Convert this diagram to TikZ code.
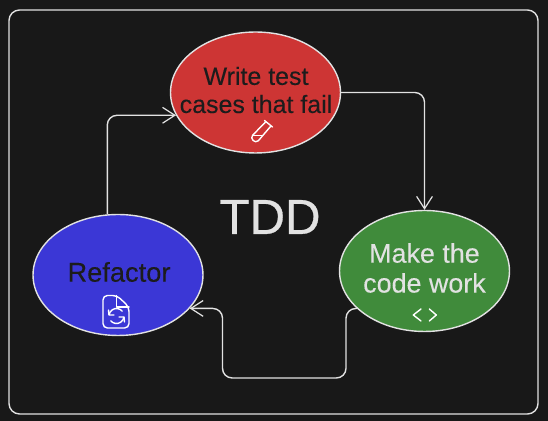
\documentclass[tikz,border=0pt]{standalone}
\usepackage{fontspec}
\setmainfont{Liberation Sans}
\usetikzlibrary{shapes.geometric,arrows.meta}
\definecolor{boardbg}{HTML}{181818}
\definecolor{inkdark}{HTML}{1C1C1C}
\definecolor{inklight}{HTML}{E2E2E2}
\definecolor{failred}{HTML}{CD3534}
\definecolor{passgreen}{HTML}{408B3B}
\definecolor{cleanblue}{HTML}{3B37D6}
\tikzset{
    phase/.style={ellipse, draw=inklight, line width=0.8pt, minimum width=3.4cm, minimum height=2.42cm, inner sep=0pt},
    caption/.style={align=center, inner sep=0pt},
    flow/.style={draw=inklight, line width=0.8pt, rounded corners=5.5pt, -{Straight Barb[length=7pt,width=9pt,line width=0.7pt]}},
    icon/.style={draw=white, line width=0.8pt, line cap=round, line join=round}
}
\begin{document}
\begin{tikzpicture}[x=0.02cm,y=-0.02cm]
    \fill[boardbg] (0,0) rectangle (548,421);
    \useasboundingbox (0,0) rectangle (548,421);

    % Frame
    \draw[inklight, line width=0.8pt, rounded corners=6pt] (9,10) rectangle (538,414);

    % Phases
    \node[phase, fill=failred] (write) at (255.5,92.5) {};
    \node[phase, fill=passgreen] (make) at (424.5,271) {};
    \node[phase, fill=cleanblue] (refactor) at (118,275) {};

    % Phase captions
    \node[caption, text=inkdark, font=\fontsize{14.2}{16}\selectfont\addfontfeature{FakeBold=0.2}] (writetext) at (256,90) {Write test\\cases that fail};
    \node[caption, text=inklight, font=\fontsize{15.3}{17}\selectfont\addfontfeature{FakeBold=0.2}] (maketext) at (424.5,268) {Make the\\code work};
    \node[caption, text=inkdark, font=\fontsize{15.5}{17}\selectfont\addfontfeature{FakeBold=0.2}] (refactortext) at (119,272) {Refactor};

    % Title
    \node[text=inklight, font=\fontsize{28}{32}\selectfont\addfontfeature{FakeBold=0.6}] (title) at (270,217) {TDD};

    % Flow between phases
    \draw[flow] (write.east) -| (make.north);
    \draw[flow] (refactor.100) |- (write.196);
    \coordinate (low1) at (346,378);
    \coordinate (low2) at (222.5,378);
    \draw[flow] (make.209) -| (low1) -- (low2) |- (refactor.-25);

    % Test tube
    \draw[icon] (265.5,122) -- (252.7,135.2) .. controls (249.5,138.5) and (255,144) .. (258.3,140.8) -- (270.5,126.5);
    \draw[icon] (264.5,120.5) -- (272.5,127);
    \draw[icon] (252.5,135.5) -- (262,135.5);

    % Code brackets
    \draw[icon] (421,309) -- (413.3,315) -- (421,321);
    \draw[icon] (429.3,309) -- (436.3,315) -- (429.3,321);

    % File with sync arrows
    \draw[icon, rounded corners=2.5pt] (117,295.5) -- (103,295.5) -- (103,328) -- (129,328) -- (129,307) -- cycle;
    \draw[icon] (116.7,295.5) -- (116.7,307) -- (129,307);
    \draw[icon] (109.1,314.7) arc[start angle=190, end angle=320, radius=7.5];
    \draw[icon] (123.9,317.3) arc[start angle=10, end angle=140, radius=7.5];
    \draw[icon] (108.5,310) -- (109,315) -- (114,315);
    \draw[icon] (124.5,322) -- (124,317) -- (119,317);
\end{tikzpicture}
\end{document}
